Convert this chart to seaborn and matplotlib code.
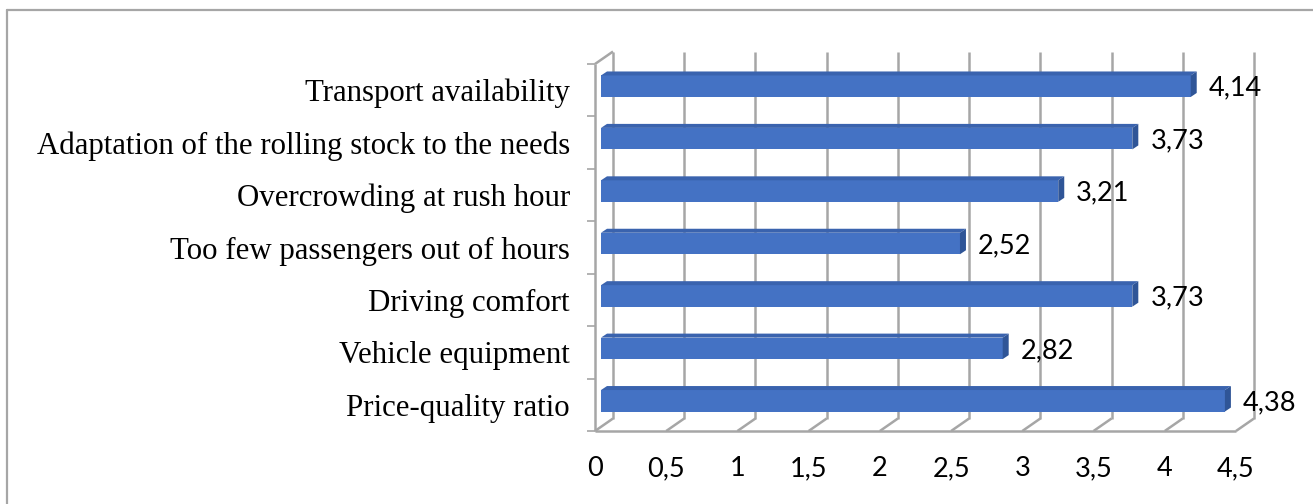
import numpy as np
import pandas as pd
import matplotlib
matplotlib.use("Agg")
import matplotlib.pyplot as plt
from matplotlib.patches import Polygon
from matplotlib.lines import Line2D
from matplotlib.ticker import FixedLocator, FuncFormatter
import seaborn as sns

# ---- data -------------------------------------------------------------
categories = [
    "Transport availability",
    "Adaptation of the rolling stock to the needs",
    "Overcrowding at rush hour",
    "Too few passengers out of hours",
    "Driving comfort",
    "Vehicle equipment",
    "Price-quality ratio",
]
scores = [4.14, 3.73, 3.21, 2.52, 3.73, 2.82, 4.38]
x_ticks = [0, 0.5, 1, 1.5, 2, 2.5, 3, 3.5, 4, 4.5]

# ---- style ------------------------------------------------------------
sns.set_style("white")
plt.rcParams["font.family"] = ["Liberation Serif", "DejaVu Serif"]
plt.rcParams["text.color"] = "black"
plt.rcParams["xtick.labelcolor"] = "black"
plt.rcParams["ytick.labelcolor"] = "black"

FRONT = "#4472C4"
TOP = "#3A63AE"
SIDE = "#2F5597"
GRID = "#A6A6A6"

W, H = 1313, 504
fig = plt.figure(figsize=(W / 100, H / 100), dpi=100)

# front plane of the box, in pixels
x0_px, x1_px = 595, 1236
top_px, floor_px = 64, 431
ax = fig.add_axes([x0_px / W, (H - floor_px) / H,
                   (x1_px - x0_px) / W, (floor_px - top_px) / H])

n = len(categories)
xmax = x_ticks[-1]
ux = xmax / (x1_px - x0_px)          # data units per pixel (x)
uy = n / (floor_px - top_px)         # category units per pixel (y)

df = pd.DataFrame({"item": categories, "score": scores})
sns.barplot(data=df, x="score", y="item", orient="h", color=FRONT,
            saturation=1, width=0.41, ax=ax, zorder=4)
ax.set_xlim(0, xmax)
ax.set_ylim(n - 0.5, -0.5)

# ---- 3-D box: back wall, floor and left wall ----------------------------
wx, wy = 18 * ux, 12.5 * uy
bottom, top = n - 0.5, -0.5
line_kw = dict(color=GRID, lw=1.8, clip_on=False, solid_capstyle="butt")
for v in x_ticks:
    ax.plot([v + wx, v + wx], [bottom - wy, top - wy], zorder=1, **line_kw)
    ax.plot([v, v + wx], [bottom, bottom - wy], zorder=1, **line_kw)
ax.plot([0, xmax], [bottom, bottom], zorder=2, **line_kw)
ax.plot([0, 0], [bottom, top], zorder=2, **line_kw)
ax.plot([0, wx], [top, top - wy], zorder=2, **line_kw)

# ---- bars with depth faces --------------------------------------------
bx, by = 6 * ux, 4 * uy          # bar sits a little behind the front plane
dx, dy = 6 * ux, 4 * uy          # bar depth
for p in ax.patches:
    p.set_x(p.get_x() + bx)
    p.set_y(p.get_y() - by)
    p.set_linewidth(0)
    xl, xr = p.get_x(), p.get_x() + p.get_width()
    yt, yb = p.get_y(), p.get_y() + p.get_height()
    ax.add_patch(Polygon([(xl, yt), (xr, yt), (xr + dx, yt - dy), (xl + dx, yt - dy)],
                         closed=True, facecolor=TOP, edgecolor="none",
                         zorder=4, clip_on=False))
    ax.add_patch(Polygon([(xr, yt), (xr + dx, yt - dy), (xr + dx, yb - dy), (xr, yb)],
                         closed=True, facecolor=SIDE, edgecolor="none",
                         zorder=4, clip_on=False))

# ---- value labels -----------------------------------------------------
for i, v in enumerate(scores):
    ax.annotate(f"{v:.2f}".replace(".", ","), xy=(v, i), xytext=(24, 2),
                textcoords="offset pixels", ha="left", va="center",
                fontsize=19.5, family=["Lato", "DejaVu Sans"], color="black",
                annotation_clip=False)

# ---- axes -------------------------------------------------------------
for s in ax.spines.values():
    s.set_visible(False)
ax.set_xlabel("")
ax.set_ylabel("")
ax.grid(False)

ax.xaxis.set_major_locator(FixedLocator(x_ticks))
ax.xaxis.set_major_formatter(FuncFormatter(lambda v, _: f"{v:g}".replace(".", ",")))
ax.tick_params(axis="x", which="major", direction="out", length=4.3, width=1.2,
               color=GRID, pad=14, labelsize=19.5, labelcolor="black")
for lbl in ax.get_xticklabels():
    lbl.set_family(["Lato", "DejaVu Sans"])

ax.yaxis.set_minor_locator(FixedLocator(np.arange(-0.5, n, 1.0)))
ax.tick_params(axis="y", which="major", length=0, pad=18, labelsize=22.2,
               labelcolor="black")
ax.tick_params(axis="y", which="minor", direction="out", length=5.5,
               width=1.2, color=GRID, left=True)

# ---- frame around the figure -------------------------------------------
fig.add_artist(Line2D([7 / W, 7 / W], [0, 1 - 10 / H], transform=fig.transFigure,
                      color=GRID, lw=1.6))
fig.add_artist(Line2D([7 / W, 1], [1 - 10 / H, 1 - 10 / H], transform=fig.transFigure,
                      color=GRID, lw=1.6))

fig.savefig("out.png", dpi=100)
